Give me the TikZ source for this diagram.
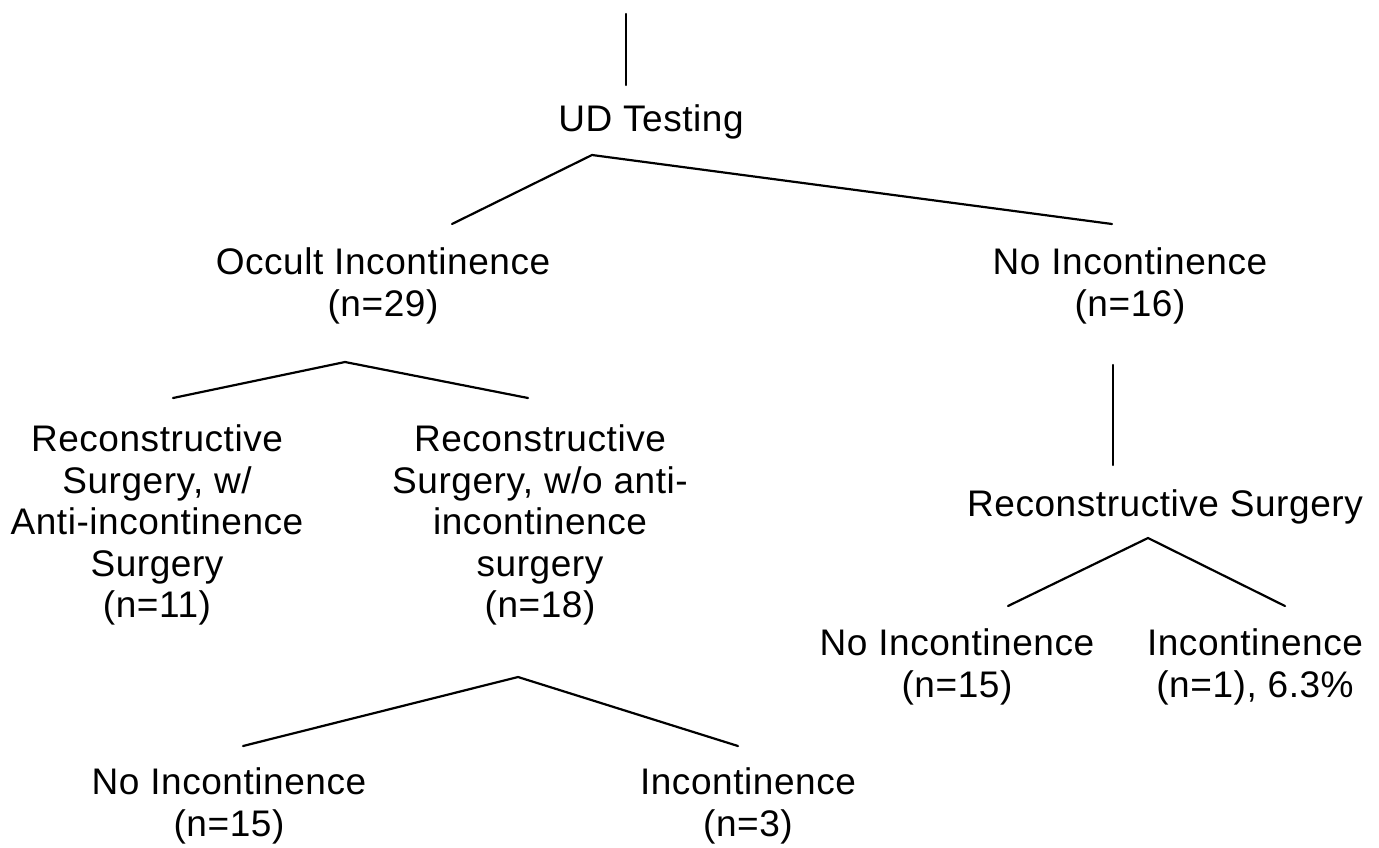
\documentclass[tikz,border=0pt]{standalone}
\usepackage{fontspec}
\setmainfont{Liberation Sans}[LetterSpace=1.5]
\begin{document}
\begin{tikzpicture}[x=1pt,y=-1pt,
  lbl/.style={align=center,inner sep=0pt,font=\fontsize{37}{41.5}\selectfont},
  conn/.style={line width=2.2pt,line cap=round}]
\useasboundingbox (0,0) rectangle (1379,847);
% nodes
\node[lbl] (ud) at (651,122) {UD Testing};
\node[lbl] (occ) at (383,286) {Occult Incontinence\\(n=29)};
\node[lbl] (noi) at (1130,286) {No Incontinence\\(n=16)};
\node[lbl] (rw) at (157,525) {Reconstructive\\Surgery, w/\\Anti-incontinence\\Surgery\\(n=11)};
\node[lbl] (rwo) at (540,525) {Reconstructive\\Surgery, w/o anti-\\incontinence\\surgery\\(n=18)};
\node[lbl] (bl) at (229,806) {No Incontinence\\(n=15)};
\node[lbl] (br) at (748,806) {Incontinence\\(n=3)};
\node[lbl] (rs) at (1165,507) {Reconstructive Surgery};
\node[lbl] (rl) at (957,667) {No Incontinence\\(n=15)};
\node[lbl] (rr) at (1255,667) {Incontinence\\(n=1), 6.3\%};
% connector points
\coordinate (t0) at (626,14);
\coordinate (t1) at (626,85);
\coordinate (j1) at (592,155);
\coordinate (a1) at (452,224);
\coordinate (b1) at (1112,224);
\coordinate (j2) at (345,362);
\coordinate (a2) at (173,398);
\coordinate (b2) at (528,398);
\coordinate (j3) at (518,677);
\coordinate (a3) at (243,746);
\coordinate (b3) at (738,746);
\coordinate (v0) at (1113,365);
\coordinate (v1) at (1113,465);
\coordinate (j4) at (1148,538);
\coordinate (a4) at (1008,606);
\coordinate (b4) at (1285,606);
% connectors
\draw[conn] (t0) -- (t1);
\draw[conn] (a1) -- (j1) -- (b1);
\draw[conn] (a2) -- (j2) -- (b2);
\draw[conn] (a3) -- (j3) -- (b3);
\draw[conn] (v0) -- (v1);
\draw[conn] (a4) -- (j4) -- (b4);
\end{tikzpicture}
\end{document}
